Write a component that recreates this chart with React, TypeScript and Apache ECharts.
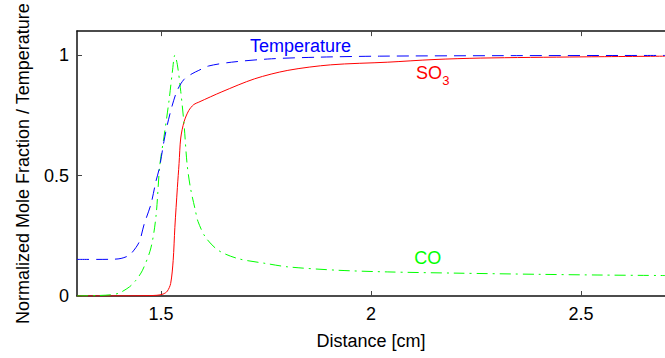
import React, { useEffect, useRef } from "react";
import * as echarts from "echarts";

const xTicks = [1.5, 2, 2.5];
const yTicks = [0, 0.5, 1];

const tempX = [1.3, 1.35, 1.39, 1.405, 1.42, 1.429, 1.448, 1.46, 1.476, 1.488, 1.496, 1.507, 1.515, 1.527, 1.539, 1.555, 1.574, 1.59, 1.613, 1.668, 1.763, 1.88, 2.02, 2.3, 2.7];
const tempY = [0.152, 0.152, 0.153, 0.156, 0.165, 0.176, 0.224, 0.299, 0.381, 0.477, 0.53, 0.642, 0.711, 0.793, 0.855, 0.9, 0.923, 0.937, 0.955, 0.971, 0.985, 0.992, 0.996, 0.998, 0.999];

const so3X = [1.3, 1.45, 1.49, 1.505, 1.515, 1.523, 1.529, 1.533, 1.539, 1.543, 1.547, 1.555, 1.566, 1.578, 1.59, 1.645, 1.723, 1.802, 1.904, 2.04, 2.15, 2.26, 2.5, 2.7];
const so3Y = [0, 0.001, 0.003, 0.008, 0.02, 0.052, 0.148, 0.285, 0.45, 0.55, 0.656, 0.724, 0.77, 0.795, 0.805, 0.848, 0.902, 0.937, 0.96, 0.971, 0.982, 0.988, 0.993, 0.996];

const coX = [1.3, 1.35, 1.38, 1.4, 1.425, 1.44, 1.456, 1.476, 1.488, 1.497, 1.507, 1.519, 1.527, 1.533, 1.539, 1.547, 1.555, 1.562, 1.57, 1.582, 1.588, 1.606, 1.637, 1.684, 1.75, 1.802, 1.92, 2.04, 2.2, 2.4, 2.55, 2.7];
const coY = [0, 0.002, 0.005, 0.012, 0.038, 0.065, 0.107, 0.2, 0.33, 0.54, 0.66, 0.81, 0.93, 1.0, 0.96, 0.85, 0.71, 0.55, 0.45, 0.354, 0.31, 0.244, 0.189, 0.155, 0.135, 0.121, 0.107, 0.1, 0.095, 0.09, 0.087, 0.085];

const zip = (xs: number[], ys: number[]) => xs.map((x, i) => [x, ys[i]]);

const FONT = "'Liberation Sans', Arial, Helvetica, sans-serif";

export default function App() {
  const ref = useRef<HTMLDivElement>(null);
  useEffect(() => {
    const chart = echarts.init(ref.current!, null, { renderer: "svg" });
    const axisLine = { show: true, lineStyle: { color: "#111", width: 1.5 } };
    const tick = (vals: number[]) => ({
      show: true,
      inside: true,
      length: 5,
      customValues: vals,
      lineStyle: { color: "#444", width: 1 },
    });
    const label = (text: string, color: string, coord: number[], size = 18) => ({
      coord,
      symbol: "rect",
      symbolSize: 0,
      itemStyle: { color: "rgba(0,0,0,0)" },
      label: {
        show: true,
        position: "inside",
        formatter: text,
        color,
        fontSize: size,
        fontFamily: FONT,
      },
    });
    chart.setOption({
      animation: false,
      backgroundColor: "#fff",
      textStyle: { fontFamily: FONT },
      grid: { left: 77, top: 29, right: -6, bottom: 62, containLabel: false },
      xAxis: [
        {
          type: "value",
          min: 1.3,
          max: 2.7,
          position: "bottom",
          name: "Distance [cm]",
          nameLocation: "middle",
          nameGap: 36,
          nameTextStyle: { fontSize: 18, color: "#000", fontFamily: FONT },
          axisLine,
          axisTick: tick(xTicks),
          axisLabel: { customValues: xTicks, fontSize: 18, color: "#000", margin: 9, fontFamily: FONT },
          splitLine: { show: false },
        },
        {
          type: "value",
          min: 1.3,
          max: 2.7,
          position: "top",
          axisLine,
          axisTick: tick(xTicks),
          axisLabel: { show: false },
          splitLine: { show: false },
        },
      ],
      yAxis: [
        {
          type: "value",
          min: 0,
          max: 1.1,
          name: "Normalized Mole Fraction / Temperature",
          nameLocation: "middle",
          nameGap: 45,
          nameTextStyle: { fontSize: 18, color: "#000", fontFamily: FONT },
          axisLine,
          axisTick: tick(yTicks),
          axisLabel: { customValues: yTicks, fontSize: 18, color: "#000", margin: 8, fontFamily: FONT },
          splitLine: { show: false },
        },
      ],
      series: [
        {
          name: "SO3",
          type: "line",
          data: zip(so3X, so3Y),
          showSymbol: false,
          smooth: 0.3,
          lineStyle: { color: "#ff0000", width: 1 },
          markPoint: {
            silent: true,
            data: [
              label("SO", "#ff0000", [2.138, 0.926]),
              label("3", "#ff0000", [2.178, 0.897], 13),
            ],
          },
        },
        {
          name: "CO",
          type: "line",
          data: zip(coX, coY),
          showSymbol: false,
          smooth: 0.3,
          lineStyle: { color: "#00ff00", width: 1, type: [11, 5, 2, 5] },
          markPoint: {
            silent: true,
            data: [label("CO", "#00ff00", [2.135, 0.156])],
          },
        },
        {
          name: "Temperature",
          type: "line",
          data: zip(tempX, tempY),
          showSymbol: false,
          smooth: 0.3,
          lineStyle: { color: "#0000ff", width: 1, type: [12, 7] },
          markPoint: {
            silent: true,
            data: [label("Temperature", "#0000ff", [1.832, 1.037])],
          },
        },
      ],
    });
    return () => chart.dispose();
  }, []);
  return (
    <div
      ref={ref}
      style={{ position: "fixed", left: 0, top: 0, width: 665, height: 358, background: "#fff" }}
    />
  );
}
